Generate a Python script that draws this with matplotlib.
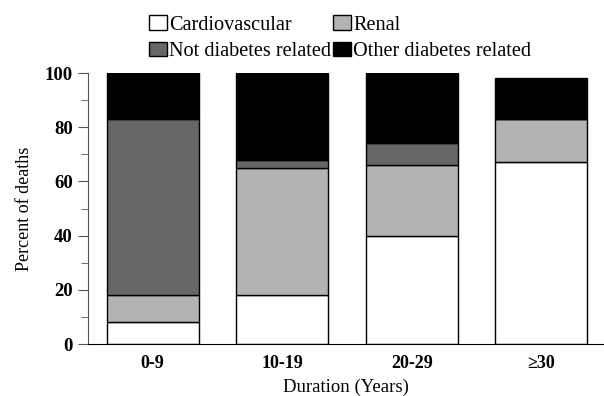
import numpy as np
import matplotlib.pyplot as plt
from matplotlib.ticker import MultipleLocator

plt.rcParams['font.family'] = ['Liberation Serif', 'DejaVu Serif']

# Данные
durations = ['0-9', '10-19', '20-29', '≥30']
cardio = [8, 18, 40, 67]
renal = [10, 47, 26, 16]
not_diab = [65, 3, 8, 0]
other_diab = [17, 32, 26, 15]

fig = plt.figure(figsize=(6.04, 3.96), dpi=100)
ax = fig.add_axes([0.1457, 0.1313, 0.8543, 0.6843])

x = np.arange(len(durations))
w = 0.71
bottom = np.zeros(len(durations))
series = [
    (cardio, 'white', 'Cardiovascular'),
    (renal, '#b3b3b3', 'Renal'),
    (not_diab, '#666666', 'Not diabetes related'),
    (other_diab, 'black', 'Other diabetes related'),
]
handles = []
for vals, col, lab in series:
    vals = np.array(vals)
    b = ax.bar(x, vals, w, bottom=bottom, color=col, edgecolor='black',
               linewidth=1.0, label=lab)
    handles.append(b)
    bottom += vals

ax.set_xlim(-0.5, 3.485)
ax.set_ylim(0, 100)
ax.set_xticks(x)
ax.set_xticklabels(durations, fontweight='bold', fontsize=13)
ax.tick_params(axis='x', length=0, pad=8)
ax.yaxis.set_major_locator(MultipleLocator(20))
ax.yaxis.set_minor_locator(MultipleLocator(10))
ax.tick_params(axis='y', which='major', length=7, labelsize=13.5, pad=4,
               color='#555555')
ax.tick_params(axis='y', which='minor', length=5, color='#555555')
for t in ax.get_yticklabels():
    t.set_fontweight('bold')

ax.spines['top'].set_visible(False)
ax.spines['right'].set_visible(False)
ax.spines['left'].set_color('#555555')

ax.set_xlabel('Duration (Years)', fontsize=13.5, labelpad=5)
ax.set_ylabel('Percent of deaths', fontsize=13, labelpad=8)

# порядок по строкам, как в оригинале
order = [0, 2, 1, 3]
fig.legend([handles[i] for i in order], [series[i][2] for i in order],
           loc='upper left', bbox_to_anchor=(0.223, 0.997), ncol=2,
           frameon=False, fontsize=14.6, handlelength=0.9, handleheight=0.7,
           handletextpad=0.1, columnspacing=0.1, labelspacing=0.35,
           borderaxespad=0.3)

fig.savefig('out.png', dpi=100)
